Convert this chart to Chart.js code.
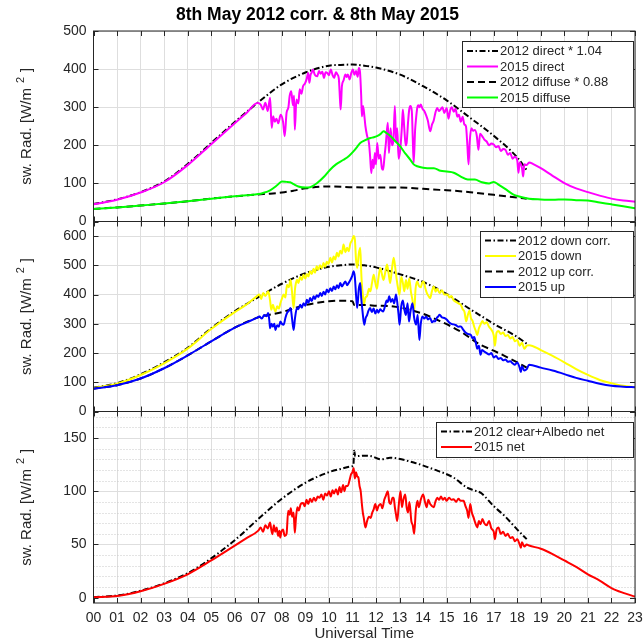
<!DOCTYPE html>
<html>
<head>
<meta charset="utf-8">
<script src="https://cdn.jsdelivr.net/npm/chart.js@4.4.1/dist/chart.umd.min.js"></script>
<style>
  html, body { margin: 0; padding: 0; background: #ffffff; }
  #wrap { position: relative; width: 643px; height: 644px; }
  #wrap canvas { position: absolute; left: 0; top: 0; }
</style>
</head>
<body>
<div id="wrap">
  <canvas id="c1" width="643" height="644"></canvas>
  <canvas id="c2" width="643" height="644"></canvas>
  <canvas id="c3" width="643" height="644"></canvas>
</div>
<script>
// ---- time axis (hours UT) ----
const hourTicks = ['00','01','02','03','04','05','06','07','08','09','10','11','12','13','14','15','16','17','18','19','20','21','22','23'];

// ---- panel 1: direct and diffuse [hour, W/m2] ----
const direct2012 = [[0,46],[1,58],[2,77],[3,105],[4,151],[5,206],[6,261],[7,313],[8,360],[9,391],[10,409],[10.5,411],[11,412],[11.5,409],[12,404],[13,386],[14,355],[15,318],[16,272],[17,225],[18,168],[18.4,135]];
const direct2015 = [[0,45],[1,57],[2,76],[3,103],[4,148],[5,203],[6,258],[6.5,285],[6.97,311],[7.1,307],[7.2,294],[7.3,312],[7.4,290],[7.5,325],[7.57,246],[7.63,276],[7.7,262],[7.77,270],[7.85,258],[7.95,280],[8.05,262],[8.12,224],[8.2,285],[8.28,300],[8.33,329],[8.4,342],[8.47,305],[8.52,330],[8.55,241],[8.62,320],[8.7,310],[8.76,347],[8.83,335],[8.9,355],[8.98,362],[9.05,373],[9.12,390],[9.17,364],[9.22,385],[9.26,390],[9.32,399],[9.4,385],[9.5,381],[9.58,395],[9.65,388],[9.72,393],[9.79,377],[9.86,392],[9.93,390],[10,384],[10.08,399],[10.15,385],[10.22,377],[10.3,392],[10.36,386],[10.42,375],[10.47,320],[10.5,294],[10.55,355],[10.62,370],[10.7,386],[10.75,379],[10.8,386],[10.88,373],[10.95,390],[11.02,399],[11.08,385],[11.15,395],[11.22,380],[11.27,403],[11.32,392],[11.37,330],[11.4,276],[11.45,303],[11.5,280],[11.55,250],[11.62,225],[11.7,206],[11.75,170],[11.8,127],[11.85,162],[11.9,140],[11.95,180],[12,150],[12.05,206],[12.12,165],[12.18,175],[12.25,140],[12.3,136],[12.36,170],[12.42,206],[12.5,259],[12.55,180],[12.62,245],[12.68,200],[12.74,215],[12.8,303],[12.85,210],[12.9,245],[12.96,165],[13.03,189],[13.1,250],[13.14,294],[13.2,245],[13.26,200],[13.3,206],[13.36,260],[13.41,294],[13.46,303],[13.52,290],[13.56,220],[13.6,154],[13.66,240],[13.7,270],[13.75,298],[13.8,305],[13.85,300],[13.9,307],[13.98,295],[14.05,290],[14.12,280],[14.2,265],[14.3,237],[14.38,255],[14.45,265],[14.52,285],[14.6,298],[14.67,290],[14.74,294],[14.82,300],[14.9,285],[15,298],[15.08,270],[15.15,292],[15.22,300],[15.3,288],[15.38,296],[15.45,275],[15.52,280],[15.6,262],[15.68,275],[15.75,255],[15.82,250],[15.88,200],[15.93,150],[15.98,210],[16.05,245],[16.12,238],[16.2,240],[16.28,225],[16.35,188],[16.42,230],[16.5,225],[16.6,215],[16.7,210],[16.8,200],[16.9,205],[17,202],[17.1,195],[17.2,198],[17.3,185],[17.4,190],[17.5,188],[17.6,175],[17.7,180],[17.8,165],[17.9,170],[18,160],[18.05,128],[18.1,155],[18.2,140],[18.25,118],[18.3,150],[18.4,148],[18.5,155],[18.7,150],[19,140],[19.5,120],[20,101],[20.5,87],[21,77],[21.5,68],[22,60],[22.5,55],[23,52]];
const diffuse2012 = [[0,33],[1,37],[2,42],[3,47],[4,53],[5,60],[6,66],[7,71],[7.5,73],[8,76],[8.5,81],[9,87],[9.6,91],[10,92],[11,90],[12,89],[13,89],[14,86],[14.7,83],[15,82],[16,77],[17,70],[18,63],[18.4,60]];
const diffuse2015 = [[0,33],[1,37],[2,42],[3,47],[4,53],[5,60],[6,66],[6.5,69],[7,72],[7.2,75],[7.5,82],[7.8,95],[8,105],[8.2,104],[8.35,103],[8.5,98],[8.7,92],[9,89],[9.2,90],[9.5,101],[9.8,118],[10.05,136],[10.3,150],[10.62,162],[10.85,172],[11.04,184],[11.2,196],[11.33,206],[11.5,212],[11.76,219],[11.9,221],[12.04,224],[12.2,230],[12.32,237],[12.45,232],[12.6,225],[12.8,212],[13.03,197],[13.25,178],[13.46,162],[13.6,150],[13.75,145],[14,141],[14.17,140],[14.46,140],[14.74,133],[15,131],[15.3,128],[15.6,118],[15.9,110],[16.2,110],[16.5,103],[16.8,100],[17,104],[17.2,97],[17.5,85],[17.8,72],[18,67],[18.5,60],[19,58],[19.5,57],[20,58],[20.5,56],[21,55],[21.5,50],[22,45],[22.5,40],[23,35]];

// ---- panel 2: downward and upward [hour, W/m2] ----
const down2012 = [[0,81],[1,97],[2,127],[3,168],[4,218],[5,285],[6,343],[7,391],[8,437],[9,473],[10,495],[10.5,500],[11,503],[11.5,500],[12,493],[13,470],[14,443],[15,402],[16,350],[16.5,325],[17,300],[18,255],[18.4,232]];
const down2015 = [[0,80],[1,95],[2,125],[3,165],[4,215],[5,282],[6,340],[6.5,366],[6.93,394],[7.05,400],[7.12,385],[7.21,405],[7.3,395],[7.42,411],[7.5,380],[7.55,348],[7.62,365],[7.68,350],[7.73,342],[7.8,360],[7.87,352],[7.94,371],[8,385],[8.08,400],[8.15,390],[8.22,434],[8.3,425],[8.37,451],[8.43,411],[8.5,354],[8.56,420],[8.6,440],[8.64,451],[8.7,440],[8.78,460],[8.85,450],[8.92,468],[9,455],[9.06,470],[9.13,462],[9.2,480],[9.27,470],[9.35,488],[9.41,475],[9.48,497],[9.55,485],[9.62,500],[9.7,490],[9.77,508],[9.84,495],[9.91,512],[9.98,505],[10.06,526],[10.13,510],[10.2,530],[10.27,520],[10.34,543],[10.41,530],[10.48,550],[10.55,540],[10.62,571],[10.7,545],[10.77,560],[10.84,548],[10.91,575],[10.98,585],[11.05,600],[11.1,590],[11.15,520],[11.2,491],[11.27,540],[11.33,560],[11.37,480],[11.4,434],[11.44,400],[11.48,365],[11.55,390],[11.62,395],[11.7,420],[11.76,411],[11.83,440],[11.9,468],[11.97,440],[12.04,420],[12.1,455],[12.18,491],[12.25,470],[12.32,450],[12.4,480],[12.47,503],[12.54,470],[12.6,440],[12.68,490],[12.75,526],[12.82,490],[12.88,450],[12.94,420],[13,400],[13.07,460],[13.14,440],[13.2,411],[13.27,450],[13.34,420],[13.41,455],[13.48,411],[13.55,380],[13.62,342],[13.68,420],[13.75,445],[13.82,430],[13.9,425],[13.96,440],[14.02,445],[14.1,420],[14.16,405],[14.23,395],[14.3,388],[14.37,410],[14.45,428],[14.53,410],[14.6,420],[14.7,405],[14.8,415],[14.9,400],[15.04,400],[15.12,390],[15.2,395],[15.3,380],[15.4,375],[15.5,370],[15.6,365],[15.68,350],[15.76,340],[15.83,308],[15.9,330],[15.97,345],[16.03,320],[16.1,310],[16.17,290],[16.24,275],[16.3,262],[16.37,285],[16.44,297],[16.52,310],[16.6,300],[16.7,305],[16.8,290],[16.9,280],[17,260],[17.05,225],[17.12,270],[17.2,275],[17.3,265],[17.4,270],[17.5,258],[17.6,262],[17.7,250],[17.8,255],[17.9,240],[18,245],[18.1,225],[18.2,235],[18.3,215],[18.4,225],[18.5,227],[19,210],[19.5,190],[20,168],[20.5,145],[21,125],[21.5,108],[22,97],[22.5,88],[23,83]];
const up2012 = [[0,78],[1,90],[2,113],[3,148],[4,192],[5,240],[6,287],[7,322],[8,340],[9,364],[10,377],[10.5,379],[11,377],[11.08,364],[11.5,364],[12,362],[12.75,359],[13.9,337],[14.75,308],[15.6,273],[16.44,228],[17,208],[18,168],[18.4,150]];
const up2015 = [[0,78],[1,90],[2,113],[3,148],[4,192],[5,240],[6,287],[6.5,305],[6.93,320],[7.05,325],[7.15,318],[7.25,330],[7.35,326],[7.42,337],[7.47,310],[7.5,285],[7.56,300],[7.62,290],[7.68,300],[7.73,279],[7.8,295],[7.87,290],[7.94,308],[8,300],[8.08,297],[8.15,320],[8.22,337],[8.3,345],[8.37,354],[8.43,320],[8.5,279],[8.56,320],[8.64,354],[8.7,350],[8.78,365],[8.85,355],[8.92,370],[9,362],[9.06,382],[9.13,372],[9.2,388],[9.27,378],[9.35,394],[9.41,385],[9.48,398],[9.55,392],[9.63,405],[9.7,395],[9.77,410],[9.84,400],[9.91,417],[9.98,408],[10.06,422],[10.13,412],[10.2,428],[10.27,418],[10.34,432],[10.41,422],[10.48,440],[10.55,428],[10.62,436],[10.7,445],[10.77,432],[10.84,440],[10.91,450],[10.98,462],[11.05,480],[11.1,460],[11.15,400],[11.2,354],[11.27,420],[11.33,440],[11.37,390],[11.43,340],[11.5,297],[11.56,320],[11.62,330],[11.68,345],[11.75,354],[11.82,340],[11.9,352],[11.97,335],[12.04,348],[12.1,338],[12.18,350],[12.24,345],[12.3,342],[12.38,360],[12.45,380],[12.5,375],[12.56,394],[12.63,375],[12.7,385],[12.77,370],[12.85,400],[12.92,360],[12.96,330],[13,297],[13.07,360],[13.14,380],[13.2,350],[13.27,330],[13.34,370],[13.4,308],[13.46,340],[13.55,370],[13.62,320],[13.7,297],[13.77,330],[13.84,245],[13.9,300],[13.97,325],[14.05,318],[14.13,325],[14.2,315],[14.3,320],[14.38,305],[14.45,310],[14.5,308],[14.58,320],[14.64,325],[14.7,331],[14.8,322],[14.9,320],[15,315],[15.1,305],[15.2,300],[15.3,298],[15.4,295],[15.5,290],[15.6,291],[15.7,280],[15.8,270],[15.9,265],[16.03,262],[16.1,250],[16.17,255],[16.24,235],[16.3,215],[16.37,225],[16.44,194],[16.5,210],[16.6,205],[16.7,200],[16.8,195],[16.9,200],[17,185],[17.1,190],[17.2,180],[17.3,183],[17.4,175],[17.5,178],[17.6,170],[17.7,172],[17.8,165],[17.9,160],[18,168],[18.1,150],[18.15,135],[18.2,155],[18.3,140],[18.4,145],[18.5,160],[19,150],[19.5,140],[20,128],[20.5,115],[21,105],[21.5,95],[22,88],[22.5,85],[23,83]];

// ---- panel 3: net [hour, W/m2] ----
const net2012 = [[0,0.5],[1,2],[2,6.5],[3,13.5],[4,23],[5,37],[6,54],[7,74],[8,93],[9,108],[10,118],[10.5,121],[11,123.5],[11.04,124],[11.07,138],[11.12,133],[11.5,133.5],[11.8,133],[12.2,130],[12.6,131.5],[13.6,127],[14.45,120.6],[15.3,112.8],[15.87,103.4],[16.15,101],[16.44,98.7],[17,86],[17.5,76],[18,64],[18.4,55]];
const net2015 = [[0,0.5],[1,1.5],[2,6],[3,13],[4,22],[5,35],[6,49],[6.5,56],[7,63],[7.1,66],[7.2,62],[7.3,68],[7.4,65],[7.5,70.6],[7.55,64],[7.6,59.7],[7.66,68],[7.72,62],[7.78,66],[7.84,58],[7.9,63],[7.93,56.5],[7.98,62],[8.05,64],[8.12,58],[8.2,60],[8.27,81.6],[8.33,78],[8.38,84],[8.44,76],[8.5,80],[8.55,61],[8.6,75],[8.66,85],[8.72,82],[8.8,88],[8.9,89],[8.97,86],[9.05,92],[9.12,88],[9.2,93],[9.28,90],[9.36,94],[9.44,91],[9.52,95],[9.6,94],[9.68,97],[9.76,92],[9.84,98],[9.92,96],[10,100],[10.08,95],[10.15,101],[10.22,98],[10.3,102],[10.38,97],[10.45,104],[10.52,99],[10.6,106],[10.66,100],[10.72,105],[10.8,105],[10.87,110],[10.94,116],[11,118],[11.05,122],[11.1,112],[11.15,118],[11.2,114],[11.25,113],[11.3,105],[11.35,100],[11.4,88],[11.44,80],[11.48,75],[11.55,66],[11.62,72],[11.7,76],[11.77,75],[11.84,80],[11.9,83],[11.97,88],[12.04,82],[12.1,86],[12.2,88],[12.27,84],[12.35,92],[12.42,96],[12.5,100],[12.56,90],[12.62,88],[12.7,94],[12.75,94],[12.8,85],[12.85,78],[12.9,72],[12.97,88],[13.04,100],[13.1,85],[13.16,92],[13.24,97],[13.3,85],[13.36,80],[13.42,90],[13.5,72],[13.56,68],[13.62,60],[13.69,82],[13.76,91],[13.82,85],[13.9,92],[14,97],[14.08,90],[14.15,85],[14.22,92],[14.3,88],[14.38,86],[14.45,85],[14.52,90],[14.6,94],[14.68,92],[14.76,95],[14.84,92],[14.92,94],[15,91],[15.1,94],[15.2,92],[15.3,92.5],[15.4,90],[15.5,93],[15.6,91],[15.72,91],[15.8,86],[15.87,82],[15.93,75],[16,88],[16.07,80],[16.15,75],[16.22,70],[16.3,66],[16.37,72],[16.44,69],[16.52,74],[16.6,70],[16.7,68],[16.8,72],[16.9,65],[17,62],[17.05,55],[17.12,64],[17.2,66],[17.3,60],[17.4,62],[17.5,58],[17.6,60],[17.7,56],[17.8,57],[17.9,53],[18,55],[18.1,50],[18.15,47],[18.2,52],[18.3,48],[18.4,50],[18.5,49],[19,46],[19.5,41],[20,35],[20.5,29],[21,22],[21.5,16],[22,9],[22.5,4.5],[23,1]];

// ---- y-axis tick ranges per panel ----
const yRange1 = { min: 0, max: 500, step: 100 };
const yRange2 = { min: 0, max: 650, step: 100 };
const yRange3 = { min: -5, max: 175, step: 50 };

// ---- layout ----
const PLOT_LEFT = 93.5;
const PLOT_RIGHT = 635;
const CANVAS_H = 644;
const AXIS_COLOR = '#262626';
const GRID_COLOR = '#dedede';
const FONT = "'Liberation Sans', Arial, Helvetica, sans-serif";
const DASH_DOT = [6, 2.5, 1.5, 2.5];
const DASHED = [7, 4];

Chart.defaults.font.family = FONT;
Chart.defaults.color = AXIS_COLOR;

const toXY = arr => arr.map(p => ({ x: p[0], y: p[1] }));

function line(label, series, color, dash) {
  return {
    label: label,
    data: toXY(series),
    borderColor: color,
    backgroundColor: color,
    borderWidth: 2,
    borderDash: dash || [],
    pointRadius: 0,
    fill: false,
    cubicInterpolationMode: 'monotone'
  };
}

// Frame with inward ticks on all four sides, y-axis label with superscript, boxed legend
const panelDecor = {
  id: 'panelDecor',
  beforeDatasetsDraw(chart, args, opts) {
    if (!opts.minorStep) return;
    const { ctx, chartArea: a } = chart;
    const ys = chart.scales.y;
    ctx.save();
    ctx.strokeStyle = '#c8c8c8';
    ctx.lineWidth = 1;
    ctx.setLineDash([1, 2]);
    for (let v = ys.min; v <= ys.max; v += 1) {
      if (v % opts.minorStep !== 0 || v % opts.majorStep === 0) continue;
      const py = Math.round(ys.getPixelForValue(v)) + 0.5;
      ctx.beginPath(); ctx.moveTo(a.left, py); ctx.lineTo(a.right, py); ctx.stroke();
    }
    ctx.restore();
  },
  afterDraw(chart, args, opts) {
    const { ctx, chartArea: a } = chart;
    const xs = chart.scales.x, ys = chart.scales.y;
    ctx.save();
    ctx.strokeStyle = AXIS_COLOR;
    ctx.lineWidth = 1;
    ctx.setLineDash([]);
    ctx.strokeRect(a.left, a.top, a.right - a.left, a.bottom - a.top);
    const tl = 5;
    ctx.beginPath();
    xs.ticks.forEach(t => {
      const px = Math.round(xs.getPixelForValue(t.value)) + 0.5;
      ctx.moveTo(px, a.bottom); ctx.lineTo(px, a.bottom - tl);
      ctx.moveTo(px, a.top); ctx.lineTo(px, a.top + tl);
    });
    ys.ticks.forEach(t => {
      const py = Math.round(ys.getPixelForValue(t.value)) + 0.5;
      ctx.moveTo(a.left, py); ctx.lineTo(a.left + tl, py);
      ctx.moveTo(a.right, py); ctx.lineTo(a.right - tl, py);
    });
    ctx.stroke();

    // y-axis label: "sw. Rad. [W/m" + superscript 2 + "]"
    const cy = (a.top + a.bottom) / 2;
    ctx.translate(opts.yTitleX, cy);
    ctx.rotate(-Math.PI / 2);
    ctx.fillStyle = AXIS_COLOR;
    ctx.textBaseline = 'alphabetic';
    ctx.textAlign = 'left';
    const mainFont = '15px ' + FONT, supFont = '11px ' + FONT;
    ctx.font = mainFont;
    const mainTxt = 'sw. Rad. [W/m', closeTxt = ']';
    const wMain = ctx.measureText(mainTxt).width;
    const wClose = ctx.measureText(closeTxt).width;
    ctx.font = supFont;
    const wSup = ctx.measureText('2').width;
    const gap = 5;
    const total = wMain + gap + wSup + gap + wClose;
    let u = -total / 2;
    ctx.font = mainFont;
    ctx.fillText(mainTxt, u, 0);
    u += wMain + gap;
    ctx.font = supFont;
    ctx.fillText('2', u, -7);
    u += wSup + gap;
    ctx.font = mainFont;
    ctx.fillText(closeTxt, u, 0);
    ctx.setTransform(1, 0, 0, 1, 0, 0);

    // legend box
    const lg = opts.legend;
    const sets = chart.data.datasets;
    const rowH = 15.5;
    const bx = lg.left, by = a.top + lg.top;
    const bw = a.right - 2 - bx;
    const bh = sets.length * rowH + 4;
    ctx.fillStyle = '#ffffff';
    ctx.fillRect(bx, by, bw, bh);
    ctx.strokeStyle = AXIS_COLOR;
    ctx.lineWidth = 1;
    ctx.strokeRect(Math.round(bx) + 0.5, Math.round(by) + 0.5, Math.round(bw), Math.round(bh));
    ctx.font = '13px ' + FONT;
    ctx.textBaseline = 'middle';
    ctx.textAlign = 'left';
    sets.forEach((ds, i) => {
      const ry = by + 10 + i * rowH;
      ctx.strokeStyle = ds.borderColor;
      ctx.lineWidth = ds.borderWidth;
      ctx.setLineDash(ds.borderDash || []);
      ctx.beginPath(); ctx.moveTo(bx + 5, ry); ctx.lineTo(bx + 36, ry); ctx.stroke();
      ctx.setLineDash([]);
      ctx.fillStyle = AXIS_COLOR;
      ctx.fillText(ds.label, bx + 38, ry + 0.5);
    });
    ctx.restore();
  }
};

function makeOptions(range, pad, opts) {
  return {
    responsive: false,
    animation: false,
    devicePixelRatio: 1,
    layout: { padding: pad },
    plugins: {
      legend: { display: false },
      tooltip: { enabled: false },
      title: opts.title ? {
        display: true,
        text: opts.title,
        color: '#000000',
        font: { size: 17.5, weight: 'bold', family: FONT },
        padding: { top: 5, bottom: 5 }
      } : { display: false },
      panelDecor: { legend: opts.legend, yTitleX: 31, minorStep: opts.minorStep, majorStep: range.step }
    },
    scales: {
      x: {
        type: 'linear',
        min: 0,
        max: 23,
        border: { display: false },
        grid: { color: GRID_COLOR, drawTicks: false },
        ticks: {
          display: !!opts.showX,
          stepSize: 1,
          autoSkip: false,
          maxRotation: 0,
          padding: 7,
          color: AXIS_COLOR,
          font: { size: 14 },
          callback: v => hourTicks[v]
        },
        title: opts.showX ? {
          display: true,
          text: 'Universal Time',
          color: AXIS_COLOR,
          font: { size: 15 },
          padding: { top: 0, bottom: 1 }
        } : { display: false },
        // fixed axis height; end labels may overhang so all panels share one plot width
        afterFit: s => { s.height = opts.xHeight; s.paddingLeft = 0; s.paddingRight = 0; }
      },
      y: {
        type: 'linear',
        min: range.min,
        max: range.max,
        border: { display: false },
        grid: { color: GRID_COLOR, drawTicks: false },
        ticks: {
          stepSize: range.step,
          includeBounds: false,
          padding: 7,
          color: AXIS_COLOR,
          font: { size: 14 }
        },
        afterFit: s => { s.width = PLOT_LEFT; }
      }
    }
  };
}

// later series are drawn on top
function ordered(sets) { sets.forEach((d, i) => { d.order = sets.length - i; }); return sets; }

new Chart(document.getElementById('c1'), {
  type: 'line',
  data: { datasets: ordered([
    line('2012 direct * 1.04', direct2012, '#000000', DASH_DOT),
    line('2015 direct', direct2015, '#ff00ff'),
    line('2012 diffuse * 0.88', diffuse2012, '#000000', DASHED),
    line('2015 diffuse', diffuse2015, '#00ff00')
  ]) },
  options: makeOptions(yRange1, { top: 0, left: 0, right: 643 - PLOT_RIGHT, bottom: CANVAS_H - 221.5 },
    { title: '8th May 2012 corr. & 8th May 2015', legend: { left: 462, top: 10 }, xHeight: 0 }),
  plugins: [panelDecor]
});

new Chart(document.getElementById('c2'), {
  type: 'line',
  data: { datasets: ordered([
    line('2012 down corr.', down2012, '#000000', DASH_DOT),
    line('2015 down', down2015, '#ffff00'),
    line('2012 up corr.', up2012, '#000000', DASHED),
    line('2015 up', up2015, '#0000ff')
  ]) },
  options: makeOptions(yRange2, { top: 221.5, left: 0, right: 643 - PLOT_RIGHT, bottom: CANVAS_H - 411.5 },
    { legend: { left: 480, top: 9 }, xHeight: 0 }),
  plugins: [panelDecor]
});

new Chart(document.getElementById('c3'), {
  type: 'line',
  data: { datasets: ordered([
    line('2012 clear+Albedo net', net2012, '#000000', DASH_DOT),
    line('2015 net', net2015, '#ff0000')
  ]) },
  options: makeOptions(yRange3, { top: 411.5, left: 0, right: 643 - PLOT_RIGHT, bottom: 0 },
    { legend: { left: 436, top: 10 }, xHeight: 41, showX: true, minorStep: 10 }),
  plugins: [panelDecor]
});
</script>
</body>
</html>
